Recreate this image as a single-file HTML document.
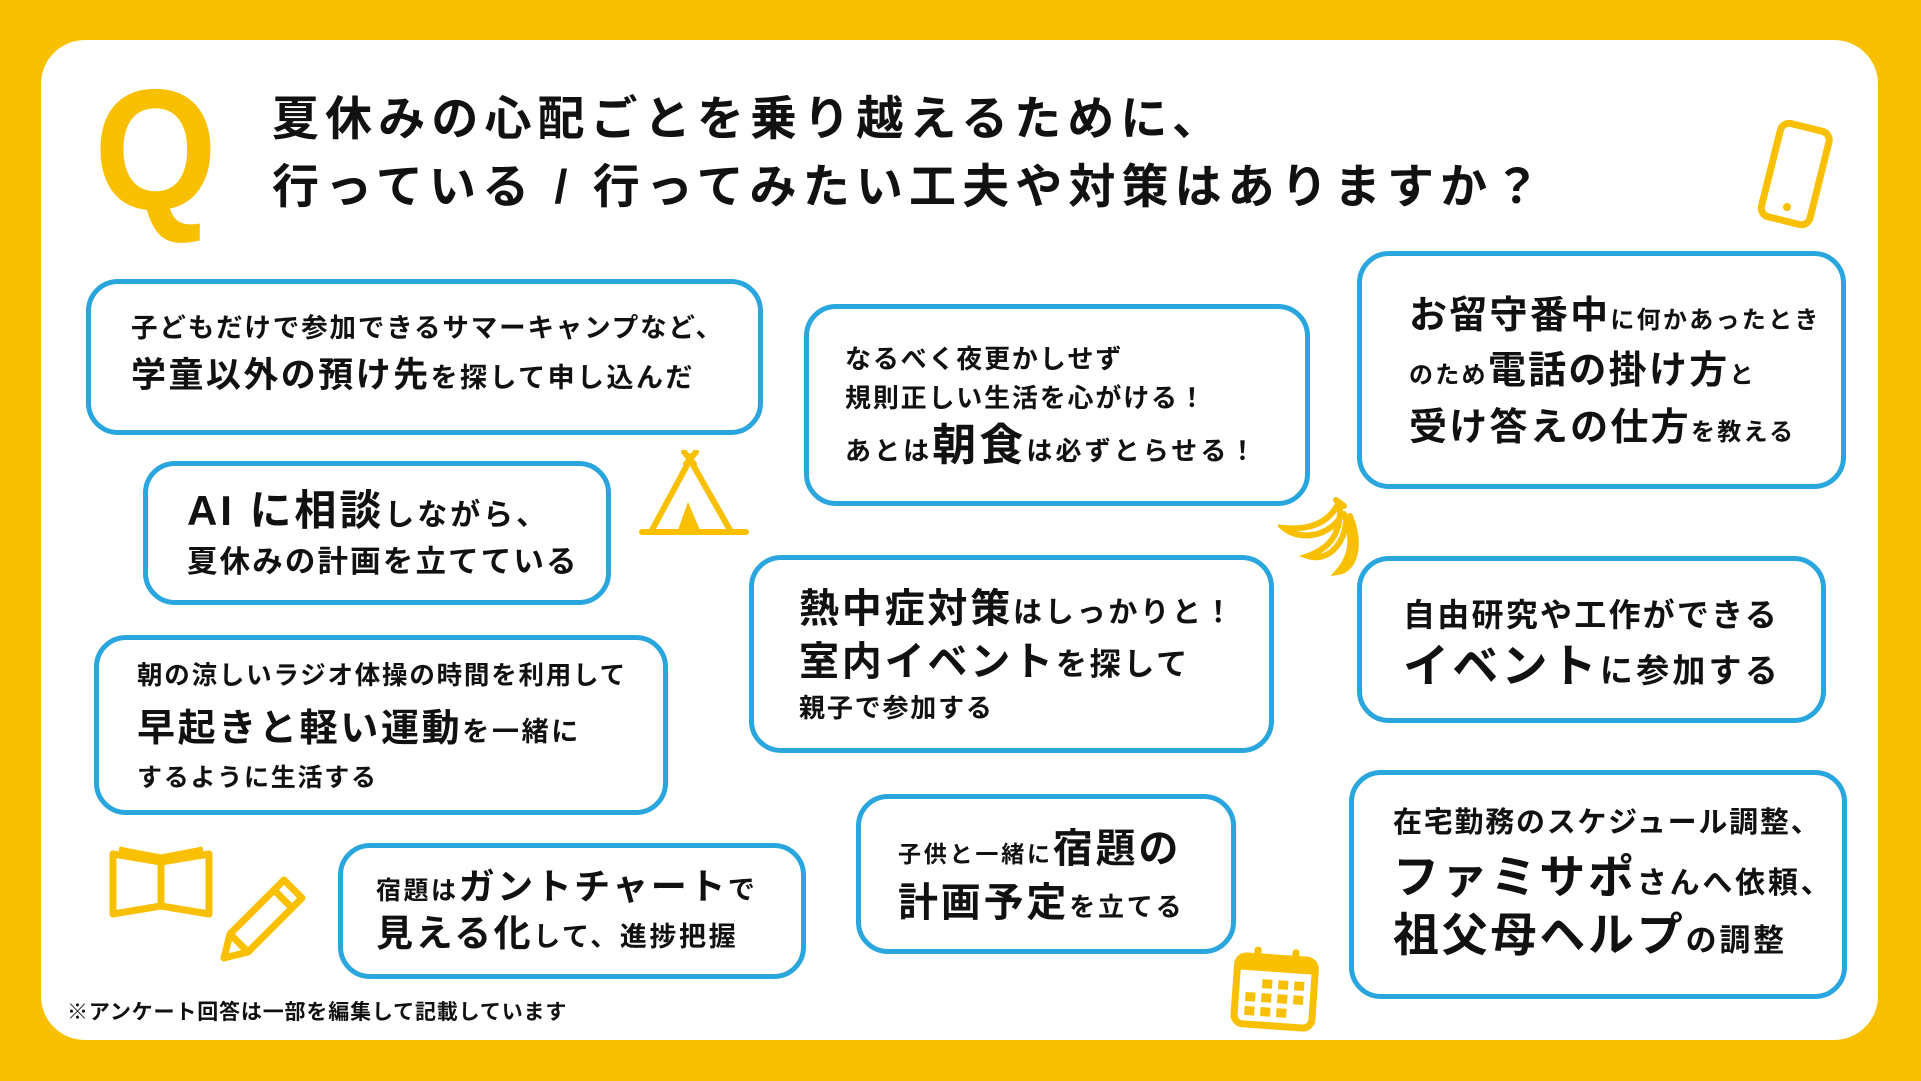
<!DOCTYPE html>
<html><head><meta charset="utf-8">
<style>
html,body{margin:0;padding:0}
body{width:1921px;height:1081px;background:#F8C000;position:relative;overflow:hidden;font-family:"Liberation Sans","Noto Sans CJK JP",sans-serif;font-weight:700;color:#111}
.panel{position:absolute;left:41px;top:40px;width:1837px;height:1000px;background:#fff;border-radius:44px}
.box{position:absolute;border:5px solid #2AA6DE;border-radius:32px;background:#fff;box-sizing:border-box}
.l{position:absolute;white-space:nowrap;line-height:1;letter-spacing:0.07em}
.l span{vertical-align:baseline}
svg{position:absolute}
</style></head><body>
<div class="panel"></div>
<div class="l" style="left:94px;top:64px;font-size:172px;color:#F8C000;letter-spacing:0;font-family:'Liberation Sans',sans-serif;font-weight:700;transform:scaleX(0.92);transform-origin:left top">Q</div>
<div class="l" style="left:272px;top:95px;font-size:47px;letter-spacing:0.13em">夏休みの心配ごとを乗り越えるために、</div>
<div class="l" style="left:272px;top:163px;font-size:47px;letter-spacing:0.13em">行っている / 行ってみたい工夫や対策はありますか？</div>

<div class="box" style="left:86px;top:279px;width:677px;height:156px"></div>
<div class="l" style="left:131px;top:315px;font-size:26.5px">子どもだけで参加できるサマーキャンプなど、</div>
<div class="l" style="left:131px;top:358px;font-size:35px">学童以外の預け先<span style="font-size:27px">を探して申し込んだ</span></div>

<div class="box" style="left:143px;top:461px;width:468px;height:144px"></div>
<div class="l" style="left:187px;top:490px;font-size:42px">AI に相談<span style="font-size:30px">しながら、</span></div>
<div class="l" style="left:187px;top:547px;font-size:30.5px">夏休みの計画を立てている</div>

<div class="box" style="left:94px;top:635px;width:574px;height:180px"></div>
<div class="l" style="left:137px;top:664px;font-size:25.5px">朝の涼しいラジオ体操の時間を利用して</div>
<div class="l" style="left:137px;top:710px;font-size:38px">早起きと軽い運動<span style="font-size:27px">を一緒に</span></div>
<div class="l" style="left:137px;top:766px;font-size:25px">するように生活する</div>

<div class="box" style="left:338px;top:843px;width:468px;height:136px"></div>
<div class="l" style="left:376px;top:869px;font-size:36px"><span style="font-size:25px">宿題は</span>ガントチャート<span style="font-size:27px">で</span></div>
<div class="l" style="left:376px;top:915px;font-size:37px">見える化<span style="font-size:27px">して、進捗把握</span></div>

<div class="box" style="left:804px;top:304px;width:506px;height:202px"></div>
<div class="l" style="left:845px;top:346px;font-size:26px">なるべく夜更かしせず</div>
<div class="l" style="left:845px;top:385px;font-size:26px">規則正しい生活を心がける！</div>
<div class="l" style="left:845px;top:424px;font-size:44px"><span style="font-size:26px">あとは</span>朝食<span style="font-size:26px">は必ずとらせる！</span></div>

<div class="box" style="left:749px;top:555px;width:525px;height:198px"></div>
<div class="l" style="left:799px;top:589px;font-size:40px">熱中症対策<span style="font-size:29px">はしっかりと！</span></div>
<div class="l" style="left:799px;top:642px;font-size:40px">室内イベント<span style="font-size:31px">を探して</span></div>
<div class="l" style="left:799px;top:695px;font-size:26px">親子で参加する</div>

<div class="box" style="left:856px;top:794px;width:380px;height:160px"></div>
<div class="l" style="left:898px;top:829px;font-size:40px"><span style="font-size:23px">子供と一緒に</span>宿題の</div>
<div class="l" style="left:898px;top:883px;font-size:40px">計画予定<span style="font-size:26px">を立てる</span></div>

<div class="box" style="left:1357px;top:251px;width:489px;height:238px"></div>
<div class="l" style="left:1409px;top:297px;font-size:38px;letter-spacing:0.06em">お留守番中<span style="font-size:24px">に何かあったとき</span></div>
<div class="l" style="left:1409px;top:352px;font-size:38px;letter-spacing:0.06em"><span style="font-size:24px">のため</span>電話の掛け方<span style="font-size:24px">と</span></div>
<div class="l" style="left:1409px;top:409px;font-size:38px;letter-spacing:0.06em">受け答えの仕方<span style="font-size:24px">を教える</span></div>

<div class="box" style="left:1357px;top:556px;width:469px;height:167px"></div>
<div class="l" style="left:1403px;top:599px;font-size:32px">自由研究や工作ができる</div>
<div class="l" style="left:1403px;top:643px;font-size:46px">イベント<span style="font-size:33px">に参加する</span></div>

<div class="box" style="left:1349px;top:770px;width:498px;height:229px"></div>
<div class="l" style="left:1393px;top:809px;font-size:29px;letter-spacing:0.06em">在宅勤務のスケジュール調整、</div>
<div class="l" style="left:1393px;top:854px;font-size:46px;letter-spacing:0.06em">ファミサポ<span style="font-size:30px">さんへ依頼、</span></div>
<div class="l" style="left:1393px;top:912px;font-size:46px;letter-spacing:0.06em">祖父母ヘルプ<span style="font-size:31px">の調整</span></div>

<div class="l" style="left:67px;top:1002px;font-size:21px;letter-spacing:0.04em">※アンケート回答は一部を編集して記載しています</div>

<!-- tent -->
<svg style="left:638px;top:450px" width="112" height="88" viewBox="0 0 112 88"><g fill="none" stroke="#F8C000" stroke-width="6" stroke-linecap="round"><path d="M4 82H108"/><path d="M54 6L14 80M50 6L92 80"/><path d="M46 2L56 14M58 2L48 14"/></g><path d="M50 52L40 80H62Z" fill="#F8C000"/></svg>
<!-- phone -->
<svg style="left:1752px;top:120px" width="86" height="110" viewBox="0 0 86 110"><g transform="rotate(14 43 55)"><rect x="18" y="6" width="50" height="96" rx="9" fill="none" stroke="#F8C000" stroke-width="7"/><circle cx="43" cy="88" r="4" fill="#F8C000"/></g></svg>
<!-- banana -->
<svg style="left:1278px;top:494px" width="82" height="84" viewBox="0 0 82 84"><g fill="none" stroke="#F8C000" stroke-width="6" stroke-linecap="round"><path d="M60 10C50 30 30 36 6 34C20 46 48 44 62 24"/><path d="M62 16C62 40 52 54 30 62C48 68 66 52 68 28"/><path d="M66 20C76 42 74 62 60 78C76 76 84 52 72 22"/><path d="M58 6L66 12"/></g></svg>
<!-- book -->
<svg style="left:105px;top:840px" width="112" height="84" viewBox="0 0 112 84"><g fill="none" stroke="#F8C000" stroke-width="7" stroke-linejoin="round"><path d="M8 14V74L56 66L104 74V14L56 22Z"/><path d="M56 22V66"/><path d="M14 10L56 18L98 10"/></g></svg>
<!-- pencil -->
<svg style="left:218px;top:872px" width="92" height="90" viewBox="0 0 92 90"><g fill="none" stroke="#F8C000" stroke-width="7" stroke-linejoin="round"><path d="M66 8L84 26L30 80L6 86L12 62Z"/><path d="M56 18L74 36"/><path d="M12 62L30 80"/></g></svg>
<!-- calendar -->
<svg style="left:1230px;top:944px" width="90" height="88" viewBox="0 0 90 88"><g transform="rotate(4 45 44)"><rect x="6" y="14" width="78" height="68" rx="9" fill="none" stroke="#F8C000" stroke-width="7"/><rect x="6" y="14" width="78" height="14" fill="#F8C000"/><g fill="#F8C000"><rect x="22" y="4" width="7" height="18" rx="3"/><rect x="60" y="4" width="7" height="18" rx="3"/><rect x="32" y="36" width="10" height="9"/><rect x="48" y="36" width="10" height="9"/><rect x="64" y="36" width="10" height="9"/><rect x="16" y="50" width="10" height="9"/><rect x="32" y="50" width="10" height="9"/><rect x="48" y="50" width="10" height="9"/><rect x="64" y="50" width="10" height="9"/><rect x="16" y="64" width="10" height="9"/><rect x="32" y="64" width="10" height="9"/><rect x="48" y="64" width="10" height="9"/></g></g></svg>
</body></html>
